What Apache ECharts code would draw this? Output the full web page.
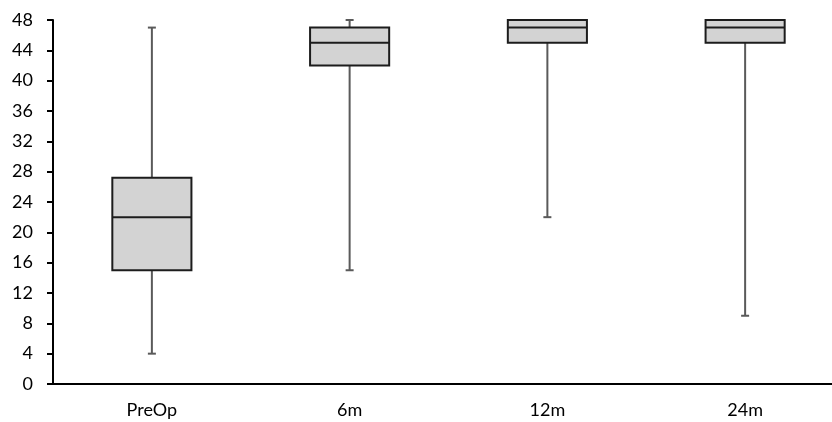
<!DOCTYPE html>
<html>
<head>
<meta charset="utf-8">
<script src="https://cdn.jsdelivr.net/npm/echarts@6/dist/echarts.min.js"></script>
<style>html,body{margin:0;padding:0;background:#fff}#c{width:832px;height:422px}</style>
</head>
<body>
<div id="c"></div>
<script>
var categories = ['PreOp', '6m', '12m', '24m'];
var mins    = [4, 15, 22, 9];
var q1s     = [15, 42, 45, 45];
var medians = [22, 45, 47, 47];
var q3s     = [27.2, 47, 48, 48];
var maxs    = [47, 48, 48, 48];
var yTicks  = [0, 4, 8, 12, 16, 20, 24, 28, 32, 36, 40, 44, 48];

var data = categories.map(function (c, i) {
  return [i, mins[i], q1s[i], medians[i], q3s[i], maxs[i]];
});

var chart = echarts.init(document.getElementById('c'));
var FONT = 'Lato';

function renderBox(params, api) {
  var i = api.value(0);
  var band = api.size([1, 0])[0];
  var boxW = band * 0.4;
  var capW = 8;
  var pMin = api.coord([i, api.value(1)]);
  var pQ1 = api.coord([i, api.value(2)]);
  var pMed = api.coord([i, api.value(3)]);
  var pQ3 = api.coord([i, api.value(4)]);
  var pMax = api.coord([i, api.value(5)]);
  var x = pMed[0];
  var wStyle = { stroke: '#5a5a5a', lineWidth: 2 };
  var bStyle = { stroke: '#1c1c1c', lineWidth: 2 };
  return {
    type: 'group',
    children: [
      { type: 'line', shape: { x1: x, y1: pMin[1], x2: x, y2: pQ1[1] }, style: wStyle },
      { type: 'line', shape: { x1: x, y1: pQ3[1], x2: x, y2: pMax[1] }, style: wStyle },
      { type: 'line', shape: { x1: x - capW / 2, y1: pMin[1], x2: x + capW / 2, y2: pMin[1] }, style: wStyle },
      { type: 'line', shape: { x1: x - capW / 2, y1: pMax[1], x2: x + capW / 2, y2: pMax[1] }, style: wStyle },
      { type: 'rect', shape: { x: x - boxW / 2, y: pQ3[1], width: boxW, height: pQ1[1] - pQ3[1] },
        style: { fill: '#d3d3d3', stroke: '#1c1c1c', lineWidth: 2 } },
      { type: 'line', shape: { x1: x - boxW / 2, y1: pMed[1], x2: x + boxW / 2, y2: pMed[1] }, style: bStyle }
    ]
  };
}

chart.setOption({
  animation: false,
  backgroundColor: '#fff',
  grid: { left: 53, width: 791, top: 20, bottom: 38, containLabel: false, outerBoundsMode: 'none' },
  xAxis: {
    type: 'category',
    data: categories,
    boundaryGap: true,
    axisLine: { lineStyle: { color: '#000', width: 2 } },
    axisTick: { alignWithLabel: true, length: 5, lineStyle: { color: '#000', width: 2 } },
    axisLabel: { color: '#000', fontFamily: FONT, fontSize: 18, margin: 17 },
    splitLine: { show: false }
  },
  yAxis: {
    type: 'value',
    min: yTicks[0],
    max: yTicks[yTicks.length - 1],
    interval: yTicks[1] - yTicks[0],
    axisLine: { show: true, lineStyle: { color: '#000', width: 2 } },
    axisTick: { show: true, length: 6, lineStyle: { color: '#000', width: 2 } },
    axisLabel: { color: '#000', fontFamily: FONT, fontSize: 18, margin: 20 },
    splitLine: { show: false }
  },
  series: [{
    type: 'custom',
    renderItem: renderBox,
    encode: { x: 0, y: [1, 2, 3, 4, 5] },
    data: data,
    clip: false
  }]
});
</script>
</body>
</html>
